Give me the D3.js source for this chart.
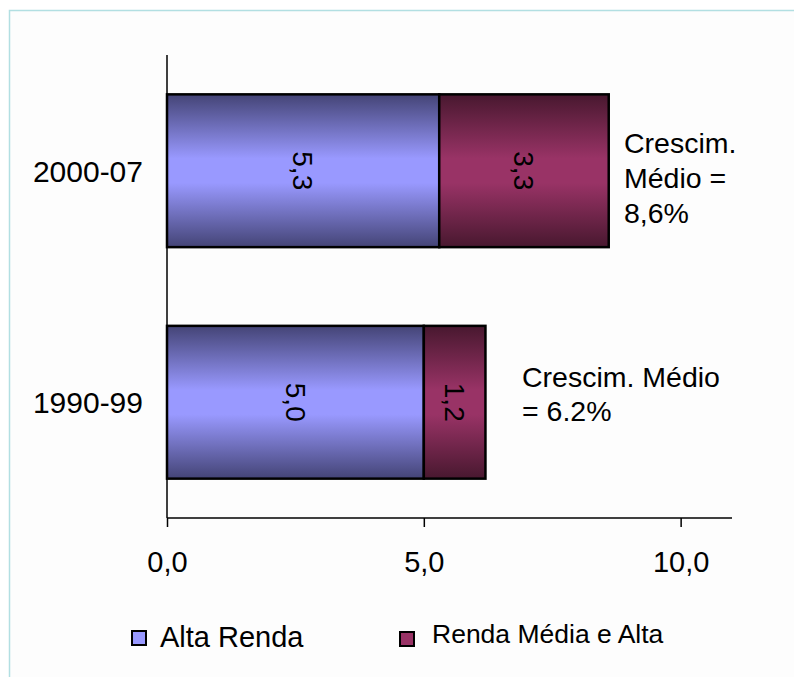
<!DOCTYPE html>
<html>
<head>
<meta charset="utf-8">
<script src="https://cdn.jsdelivr.net/npm/d3@7"></script>
<style>
html,body{margin:0;padding:0;background:#ffffff;}
svg{display:block;font-family:"Liberation Sans",Arial,sans-serif;}
</style>
</head>
<body>
<script>
const categories = ["2000-07", "1990-99"];
const seriesNames = ["Alta Renda", "Renda Média e Alta"];
const altaRenda = [5.3, 5.0];
const rendaMediaAlta = [3.3, 1.2];
const valueLabels = [["5,3", "3,3"], ["5,0", "1,2"]];
const tickValues = [0, 5, 10];
const tickLabels = ["0,0", "5,0", "10,0"];
const annotations = [["Crescim.", "Médio =", "8,6%"], ["Crescim. Médio", "= 6.2%"]];

const W = 794, H = 677;
const svg = d3.select("body").append("svg").attr("width", W).attr("height", H);

// gradients
const defs = svg.append("defs");
function grad(id, edge, mid) {
  const g = defs.append("linearGradient").attr("id", id)
    .attr("x1", 0).attr("y1", 0).attr("x2", 0).attr("y2", 1);
  g.append("stop").attr("offset", "0%").attr("stop-color", edge);
  g.append("stop").attr("offset", "42%").attr("stop-color", mid);
  g.append("stop").attr("offset", "58%").attr("stop-color", mid);
  g.append("stop").attr("offset", "100%").attr("stop-color", edge);
}
grad("gBlue", "#444476", "#9999ff");
grad("gMaroon", "#48182f", "#993366");
const fills = ["url(#gBlue)", "url(#gMaroon)"];

// chart area background / border
svg.append("rect").attr("x", 9.5).attr("y", 10.5).attr("width", W).attr("height", H)
  .attr("fill", "#fdfdfd").attr("stroke", "#b2dfe2").attr("stroke-width", 1.5);

const x = d3.scaleLinear().domain([0, 11]).range([167, 732]);
const y = d3.scaleBand().domain(categories).range([55, 518]).paddingInner(0.34).paddingOuter(0.17);

// stacked data
const rows = categories.map((c, i) => ({cat: c, "Alta Renda": altaRenda[i], "Renda Média e Alta": rendaMediaAlta[i], idx: i}));
const stacked = d3.stack().keys(seriesNames)(rows);

stacked.forEach((layer, si) => {
  svg.append("g").selectAll("rect").data(layer).join("rect")
    .attr("x", d => x(d[0]))
    .attr("y", d => y(d.data.cat))
    .attr("width", d => x(d[1]) - x(d[0]))
    .attr("height", y.bandwidth())
    .attr("fill", fills[si])
    .attr("stroke", "#000").attr("stroke-width", 2.5);
  svg.append("g").selectAll("text").data(layer).join("text")
    .attr("transform", d => `translate(${(x(d[0]) + x(d[1])) / 2},${y(d.data.cat) + y.bandwidth() / 2}) rotate(90)`)
    .attr("text-anchor", "middle").attr("dy", "0.35em")
    .attr("font-size", 28).attr("fill", "#000")
    .text(d => valueLabels[d.data.idx][si]);
});

// axes
const xAxis = d3.axisBottom(x).tickValues(tickValues).tickSize(9).tickFormat((d, i) => tickLabels[i]);
const gx = svg.append("g").attr("transform", `translate(0,518)`).call(xAxis);
gx.select(".domain").attr("d", `M${x(0)},0H${x(11)}`).attr("stroke", "#000").attr("stroke-width", 1.5);
gx.selectAll(".tick line").attr("stroke", "#000").attr("stroke-width", 1.5);
gx.selectAll(".tick text").attr("font-size", 29).attr("font-family", "Liberation Sans, Arial, sans-serif")
  .attr("fill", "#000").attr("y", 54).attr("dy", 0);

const yAxis = d3.axisLeft(y).tickSize(0).tickPadding(24);
const gy = svg.append("g").attr("transform", `translate(167,0)`).call(yAxis);
gy.select(".domain").attr("d", `M0,55V518`).attr("stroke", "#000").attr("stroke-width", 1.5);
gy.selectAll(".tick text").attr("font-size", 30).attr("font-family", "Liberation Sans, Arial, sans-serif")
  .attr("fill", "#000").attr("dy", "0.36em");

// annotations
const ann1 = svg.append("text").attr("font-size", 28.5).attr("fill", "#000");
annotations[0].forEach((t, i) => ann1.append("tspan").attr("x", 624).attr("y", 153 + i * 35).text(t));
const ann2 = svg.append("text").attr("font-size", 28.5).attr("fill", "#000");
annotations[1].forEach((t, i) => ann2.append("tspan").attr("x", 522).attr("y", 387 + i * 34).text(t));

// legend
const legendItems = [
  {name: seriesNames[0], fill: "#9999ff", sx: 132, sy: 631, tx: 160, ty: 647, fs: 29},
  {name: seriesNames[1], fill: "#993366", sx: 400, sy: 632, tx: 432, ty: 643, fs: 26.5}
];
const lg = svg.append("g").selectAll("g").data(legendItems).join("g");
lg.append("rect").attr("x", d => d.sx).attr("y", d => d.sy).attr("width", 14).attr("height", 14)
  .attr("fill", d => d.fill).attr("stroke", "#000").attr("stroke-width", 2);
lg.append("text").attr("x", d => d.tx).attr("y", d => d.ty).attr("font-size", d => d.fs)
  .attr("fill", "#000").text(d => d.name);
</script>
</body>
</html>
